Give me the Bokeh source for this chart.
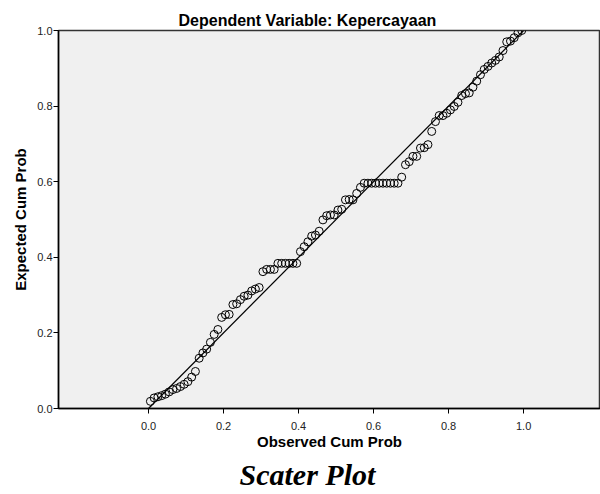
from bokeh.plotting import figure
from bokeh.models import Range1d, FixedTicker, PrintfTickFormatter, Title, ColumnDataSource
from bokeh.embed import file_html
from bokeh.resources import INLINE

# Observed cumulative probability (x) and expected cumulative probability (y)
observed = [0.005, 0.015, 0.025, 0.035, 0.045, 0.055, 0.065, 0.075, 0.085, 0.095,
            0.105, 0.115, 0.125, 0.135, 0.145, 0.155, 0.165, 0.175, 0.185, 0.195,
            0.205, 0.215, 0.225, 0.235, 0.245, 0.255, 0.265, 0.275, 0.285, 0.295,
            0.305, 0.315, 0.325, 0.335, 0.345, 0.355, 0.365, 0.375, 0.385, 0.395,
            0.405, 0.415, 0.425, 0.435, 0.445, 0.455, 0.465, 0.475, 0.485, 0.495,
            0.505, 0.515, 0.525, 0.535, 0.545, 0.555, 0.565, 0.575, 0.585, 0.595,
            0.605, 0.615, 0.625, 0.635, 0.645, 0.655, 0.665, 0.675, 0.685, 0.695,
            0.705, 0.715, 0.725, 0.735, 0.745, 0.755, 0.765, 0.775, 0.785, 0.795,
            0.805, 0.815, 0.825, 0.835, 0.845, 0.855, 0.865, 0.875, 0.885, 0.895,
            0.905, 0.915, 0.925, 0.935, 0.945, 0.955, 0.965, 0.975, 0.985, 0.995]
expected = [0.019, 0.028, 0.031, 0.034, 0.038, 0.044, 0.050, 0.053, 0.058, 0.064,
            0.071, 0.083, 0.098, 0.133, 0.147, 0.157, 0.175, 0.196, 0.209, 0.241,
            0.248, 0.249, 0.275, 0.277, 0.288, 0.297, 0.300, 0.311, 0.316, 0.320,
            0.362, 0.368, 0.368, 0.368, 0.384, 0.384, 0.384, 0.384, 0.384, 0.384,
            0.415, 0.428, 0.441, 0.456, 0.459, 0.469, 0.499, 0.510, 0.512, 0.512,
            0.525, 0.527, 0.552, 0.553, 0.552, 0.569, 0.585, 0.596, 0.596, 0.596,
            0.596, 0.596, 0.596, 0.596, 0.596, 0.596, 0.596, 0.612, 0.645, 0.653,
            0.667, 0.667, 0.689, 0.690, 0.698, 0.733, 0.759, 0.775, 0.775, 0.781,
            0.790, 0.799, 0.810, 0.828, 0.833, 0.835, 0.850, 0.866, 0.883, 0.897,
            0.905, 0.914, 0.921, 0.930, 0.947, 0.970, 0.972, 0.981, 0.994, 1.000]
ref_line = [0.0, 1.0]
ticks = [0.0, 0.2, 0.4, 0.6, 0.8, 1.0]
caption = "Scater Plot"

FONT = "Liberation Sans"

p = figure(width=600, height=494, output_backend="svg", toolbar_location=None,
           x_range=Range1d(-0.24, 1.205), y_range=Range1d(0, 1),
           min_border_left=58, min_border_right=0, min_border_top=30, min_border_bottom=86,
           background_fill_color="#f0f0f0", border_fill_color="white")

p.title.text = "Dependent Variable: Kepercayaan"
p.title.align = "left"
p.title.offset = 120
p.title.standoff = 4
p.title.text_font = FONT
p.title.text_font_size = "16px"
p.title.text_font_style = "bold"
p.title.text_color = "black"

p.line(ref_line, ref_line, line_color="black", line_width=1.2)
src = ColumnDataSource(dict(x=observed, y=expected))
p.scatter("x", "y", source=src, size=8, fill_color=None, line_color="black", line_width=1)

p.xgrid.visible = False
p.ygrid.visible = False
p.outline_line_color = "#333333"
p.outline_line_width = 1.5

for ax in (p.xaxis[0], p.yaxis[0]):
    ax.ticker = FixedTicker(ticks=ticks)
    ax.formatter = PrintfTickFormatter(format="%.1f")
    ax.minor_tick_line_color = None
    ax.major_tick_in = 0
    ax.major_tick_out = 5
    ax.axis_line_color = "black"
    ax.axis_line_width = 1.5
    ax.major_tick_line_color = "black"
    ax.major_label_text_font = FONT
    ax.major_label_text_font_size = "11px"
    ax.major_label_text_color = "#222222"
    ax.axis_label_text_font = FONT
    ax.axis_label_text_font_size = "15px"
    ax.axis_label_text_font_style = "bold"
    ax.axis_label_text_color = "black"

p.xaxis[0].axis_label = "Observed Cum Prob"
p.yaxis[0].axis_label = "Expected Cum Prob"
p.xaxis[0].major_label_standoff = 8
p.xaxis[0].axis_label_standoff = 0
p.yaxis[0].major_label_standoff = 1
p.yaxis[0].axis_label_standoff = 5

cap = Title(text=caption, align="left", offset=181, standoff=7,
            text_font="Liberation Serif", text_font_size="30px", text_font_style="bold italic",
            text_color="black")
p.add_layout(cap, "below")

open("out.html", "w").write(file_html(p, INLINE))
